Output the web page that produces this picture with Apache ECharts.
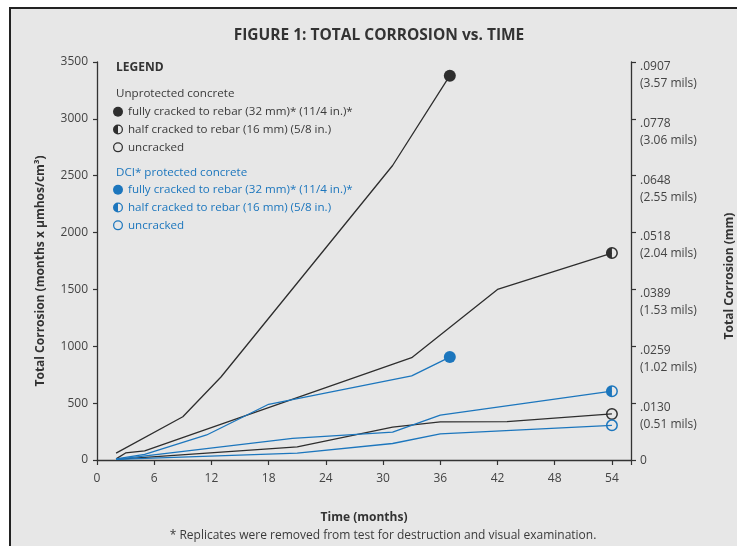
<!DOCTYPE html>
<html>
<head>
<meta charset="utf-8">
<script src="https://cdn.jsdelivr.net/npm/echarts@6/dist/echarts.min.js"></script>
<style>html,body{margin:0;padding:0;background:#fff}#c{width:737px;height:546px}</style>
</head>
<body>
<div id="c"></div>
<script>
// ---- data ----
const xTicks = [0, 6, 12, 18, 24, 30, 36, 42, 48, 54];
const leftTicks = [0, 500, 1000, 1500, 2000, 2500, 3000, 3500];
const rightTickMm = ['0', '.0130', '.0259', '.0389', '.0518', '.0648', '.0778', '.0907'];
const rightTickMils = ['', '(0.51 mils)', '(1.02 mils)', '(1.53 mils)', '(2.04 mils)', '(2.55 mils)', '(3.06 mils)', '(3.57 mils)'];

const uFullMonths = [2, 9, 13, 31, 37];
const uFullValues = [60, 380, 730, 2590, 3380];
const uHalfMonths = [2, 3, 5, 33, 42, 54];
const uHalfValues = [10, 62, 80, 900, 1500, 1820];
const uUncMonths = [2, 21, 31, 36, 43, 54];
const uUncValues = [5, 115, 290, 335, 337, 405];
const dFullMonths = [2, 5, 11.5, 18, 33, 37];
const dFullValues = [10, 50, 220, 490, 740, 905];
const dHalfMonths = [2, 20.5, 31, 36, 54];
const dHalfValues = [5, 190, 245, 395, 605];
const dUncMonths = [2, 21, 31, 36, 54];
const dUncValues = [5, 60, 145, 230, 305];

const legendLabels = {
  uFull: 'fully cracked to rebar (32 mm)* (11/4 in.)*',
  uHalf: 'half cracked to rebar (16 mm) (5/8 in.)',
  uUnc: 'uncracked',
  dFull: 'fully cracked to rebar (32 mm)* (11/4 in.)*',
  dHalf: 'half cracked to rebar (16 mm) (5/8 in.)',
  dUnc: 'uncracked'
};

// ---- styling ----
const BLACK = '#2e2e2e';
const BLUE = '#1c76bd';
const TEXT = '#3a3a3a';
const FONT = 'Open Sans';
const FULL = 'circle';
const RING = 'path://M0,-6A6,6 0 1,1 0,6A6,6 0 1,1 0,-6ZM0,-4.5A4.5,4.5 0 1,0 0,4.5A4.5,4.5 0 1,0 0,-4.5Z';
const HALF = RING + 'M0,-4.5A4.5,4.5 0 0,0 0,4.5Z';

function mkSeries(name, months, values, color, sym) {
  const data = months.map((m, i) => {
    const last = i === months.length - 1;
    return last ? { value: [m, values[i]], symbol: sym, symbolSize: 12 } : { value: [m, values[i]], symbol: 'none' };
  });
  return {
    name, type: 'line', data, showSymbol: true, showAllSymbol: true,
    symbol: sym, symbolSize: 12,
    lineStyle: { color, width: 1.3 },
    itemStyle: { color, borderWidth: 0 },
    emphasis: { disabled: true }, silent: true, animation: false, z: 3
  };
}

const series = [
  mkSeries('uFull', uFullMonths, uFullValues, BLACK, FULL),
  mkSeries('uHalf', uHalfMonths, uHalfValues, BLACK, HALF),
  mkSeries('uUnc', uUncMonths, uUncValues, BLACK, RING),
  mkSeries('dFull', dFullMonths, dFullValues, BLUE, FULL),
  mkSeries('dHalf', dHalfMonths, dHalfValues, BLUE, HALF),
  mkSeries('dUnc', dUncMonths, dUncValues, BLUE, RING)
];

const chart = echarts.init(document.getElementById('c'), null, { renderer: 'canvas' });
const legendCommon = {
  orient: 'vertical', left: 113, itemWidth: 10, itemHeight: 10, itemGap: 0.3,
  selectedMode: false, formatter: n => legendLabels[n], padding: 0
};
chart.setOption({
  animation: false,
  backgroundColor: '#ffffff',
  textStyle: { fontFamily: FONT },
  title: [
    { text: 'FIGURE 1: TOTAL CORROSION vs. TIME', left: 374, top: 23, textAlign: 'center',
      textStyle: { fontFamily: FONT, fontSize: 15.5, fontWeight: 'bold', color: '#333' } },
    { text: '* Replicates were removed from test for destruction and visual examination.', left: 378, top: 525,
      textAlign: 'center', textStyle: { fontFamily: FONT, fontSize: 12, fontWeight: 'normal', color: TEXT } }
  ],
  graphic: [
    { type: 'rect', z: -10, shape: { x: 10, y: 8, width: 727, height: 538 }, style: { fill: '#e7e7e7' } },
    { type: 'line', z: -9, shape: { x1: 9, y1: 8, x2: 737, y2: 8 }, style: { stroke: '#222', lineWidth: 2 } },
    { type: 'line', z: -9, shape: { x1: 10, y1: 7, x2: 10, y2: 546 }, style: { stroke: '#222', lineWidth: 2 } },
    { type: 'text', left: 116, top: 62, style: { text: 'LEGEND', font: 'bold 12px "Open Sans"', fill: '#333' } },
    { type: 'text', left: 116, top: 88, style: { text: 'Unprotected concrete', font: '11.6px "Open Sans"', fill: TEXT } },
    { type: 'text', left: 116, top: 167, style: { text: 'DCI* protected concrete', font: '11.6px "Open Sans"', fill: BLUE } }
  ],
  legend: [
    Object.assign({}, legendCommon, { top: 103, data: ['uFull', 'uHalf', 'uUnc'].map((n, i) => ({ name: n, icon: [FULL, HALF, RING][i] })),
      textStyle: { fontFamily: FONT, fontSize: 11.6, color: TEXT, lineHeight: 17.5 } }),
    Object.assign({}, legendCommon, { top: 181, data: ['dFull', 'dHalf', 'dUnc'].map((n, i) => ({ name: n, icon: [FULL, HALF, RING][i] })),
      textStyle: { fontFamily: FONT, fontSize: 11.6, color: BLUE, lineHeight: 17.5 } })
  ],
  grid: { left: 97, right: 106, top: 62, bottom: 86, containLabel: false, outerBoundsMode: 'none' },
  xAxis: {
    type: 'value', min: 0, max: 56, interval: 6,
    name: 'Time (months)', nameLocation: 'middle', nameGap: 52,
    nameTextStyle: { fontFamily: FONT, fontSize: 12, fontWeight: 'bold', color: '#333' },
    axisLine: { show: true, lineStyle: { color: '#333', width: 1.3 } },
    axisTick: { show: true, length: 5, lineStyle: { color: '#333', width: 1.2 } },
    axisLabel: { color: '#444', fontSize: 12, fontFamily: FONT, margin: 13,
      formatter: v => (xTicks.indexOf(v) >= 0 ? String(v) : '') },
    splitLine: { show: false }
  },
  yAxis: [
    {
      type: 'value', min: leftTicks[0], max: leftTicks[leftTicks.length - 1], interval: 500, position: 'left',
      name: 'Total Corrosion (months x μmhos/cm³)', nameLocation: 'middle', nameGap: 50, nameRotate: 90,
      nameTextStyle: { fontFamily: FONT, fontSize: 12, fontWeight: 'bold', color: '#333', padding: [0, 20, 0, 0] },
      axisLine: { show: true, lineStyle: { color: '#333', width: 1.3 } },
      axisTick: { show: true, length: 4, lineStyle: { color: '#333', width: 1.2 } },
      axisLabel: { color: '#444', fontSize: 12, fontFamily: FONT, margin: 9, formatter: v => String(v) },
      splitLine: { show: false }
    },
    {
      type: 'value', min: leftTicks[0], max: leftTicks[leftTicks.length - 1], interval: 500, position: 'right',
      name: 'Total Corrosion (mm)', nameLocation: 'middle', nameGap: 93, nameRotate: 90,
      nameTextStyle: { fontFamily: FONT, fontSize: 12, fontWeight: 'bold', color: '#333', padding: [0, 30, 0, 0] },
      axisLine: { show: true, lineStyle: { color: '#333', width: 1.3 } },
      axisTick: { show: true, length: 5, lineStyle: { color: '#333', width: 1.2 } },
      axisLabel: { color: '#444', fontSize: 12, fontFamily: FONT, margin: 9, verticalAlign: 'top',
        showMinLabel: true, showMaxLabel: true, hideOverlap: false,
        rich: {
          a: { fontFamily: FONT, fontSize: 12, color: '#444', lineHeight: 9 },
          b: { fontFamily: FONT, fontSize: 12, color: '#444', lineHeight: 25 },
          z: { fontFamily: FONT, fontSize: 12, color: '#444', lineHeight: 1 }
        },
        formatter: v => {
          const i = leftTicks.indexOf(v);
          if (i < 0) return '';
          return rightTickMils[i] ? '{a|' + rightTickMm[i] + '}\n{b|' + rightTickMils[i] + '}' : '{z|' + rightTickMm[i] + '}';
        } },
      splitLine: { show: false }
    }
  ],
  series
});
</script>
</body>
</html>
